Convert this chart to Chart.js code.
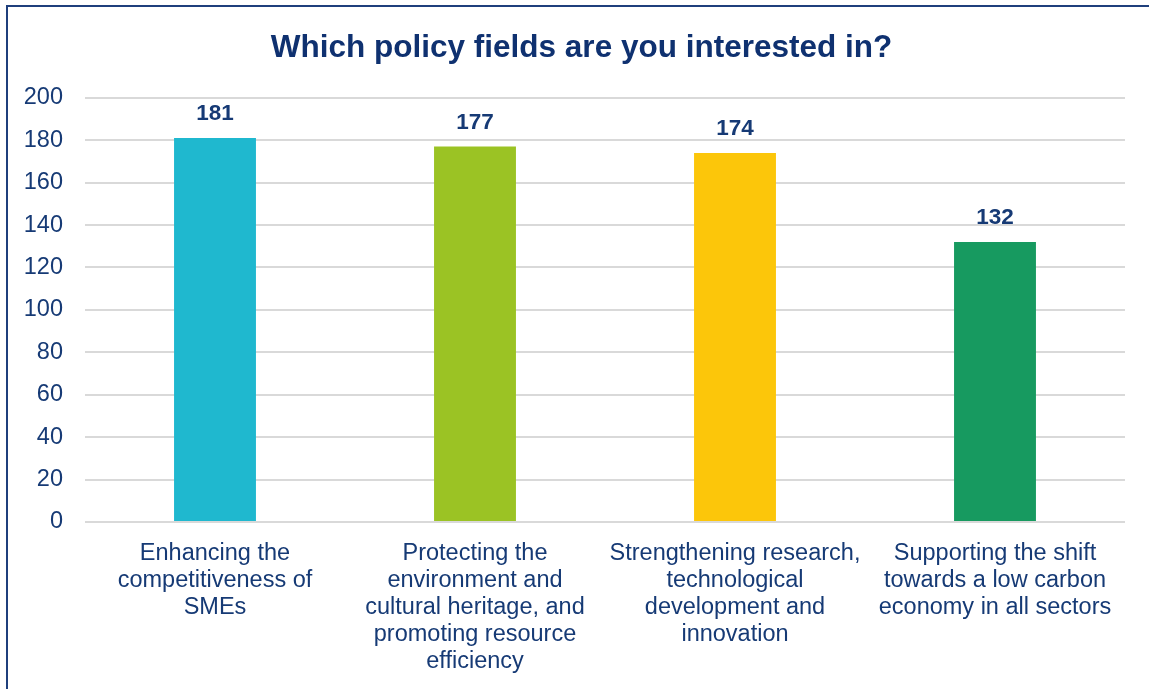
<!DOCTYPE html>
<html>
<head>
<meta charset="utf-8">
<script src="https://cdn.jsdelivr.net/npm/chart.js@4/dist/chart.umd.min.js"></script>
<style>
    html, body { margin: 0; padding: 0; background: #fff; }
    #wrap { position: relative; width: 1149px; height: 689px; overflow: hidden; }
    #frame {
        position: absolute; left: 6px; top: 5px; width: 1200px; height: 800px;
        border: 2px solid #1f3f7c; box-sizing: border-box; pointer-events: none;
    }
    canvas { position: absolute; left: 0; top: 0; }
</style>
</head>
<body>
<div id="wrap">
    <canvas id="policyChart" width="1149" height="689"></canvas>
    <div id="frame"></div>
</div>
<script>
const categories = [
    ['Enhancing the', 'competitiveness of', 'SMEs'],
    ['Protecting the', 'environment and', 'cultural heritage, and', 'promoting resource', 'efficiency'],
    ['Strengthening research,', 'technological', 'development and', 'innovation'],
    ['Supporting the shift', 'towards a low carbon', 'economy in all sectors'],
];
const responses = [181, 177, 174, 132];
const barColors = ['#1fb8cf', '#9bc324', '#fcc60a', '#179a60'];
const yTicks = [0, 20, 40, 60, 80, 100, 120, 140, 160, 180, 200];

const navy = '#163a75';
const fontFamily = 'Arial, "Liberation Sans", sans-serif';

// Value labels above the bars
const valueLabels = {
    id: 'valueLabels',
    afterDatasetsDraw(chart) {
        const ctx = chart.ctx;
        const meta = chart.getDatasetMeta(0);
        ctx.save();
        ctx.font = `bold 22.5px ${fontFamily}`;
        ctx.fillStyle = navy;
        ctx.textAlign = 'center';
        ctx.textBaseline = 'middle';
        meta.data.forEach((bar, i) => {
            ctx.fillText(String(responses[i]), bar.x, bar.y - 24);
        });
        ctx.restore();
    },
};

// The title sits centred on the framed box, a bit right of the canvas centre
const titleShift = {
    id: 'titleShift',
    afterLayout(chart) {
        if (chart.titleBlock) {
            chart.titleBlock.left += 19;
            chart.titleBlock.right += 19;
        }
    },
};

const ctx = document.getElementById('policyChart').getContext('2d');
new Chart(ctx, {
    type: 'bar',
    data: {
        labels: categories,
        datasets: [
            {
                data: responses,
                backgroundColor: barColors,
                barPercentage: 0.315,
                categoryPercentage: 1,
            },
        ],
    },
    options: {
        responsive: false,
        animation: false,
        layout: {
            padding: { left: 0, right: 24, top: 0, bottom: 0 },
        },
        plugins: {
            legend: { display: false },
            tooltip: { enabled: false },
            title: {
                display: true,
                text: 'Which policy fields are you interested in?',
                color: '#0f3170',
                font: { family: fontFamily, size: 31.5, weight: 'bold', lineHeight: 1.2 },
                padding: { top: 29, bottom: 31 },
            },
        },
        scales: {
            x: {
                grid: { display: false, drawTicks: false },
                border: { display: false },
                ticks: {
                    color: navy,
                    font: { family: fontFamily, size: 23.5, lineHeight: 1.15 },
                    padding: 18,
                    maxRotation: 0,
                    autoSkip: false,
                },
                afterFit: (scale) => {
                    scale.height = 167;
                },
            },
            y: {
                min: 0,
                max: 200,
                afterBuildTicks: (scale) => {
                    scale.ticks = yTicks.map((v) => ({ value: v }));
                },
                grid: { color: '#d9d9d9', lineWidth: 2, drawTicks: false },
                border: { display: false },
                ticks: {
                    color: navy,
                    font: { family: fontFamily, size: 23.5 },
                    padding: 22,
                },
                afterFit: (scale) => {
                    scale.width = 85;
                },
            },
        },
    },
    plugins: [valueLabels, titleShift],
});
</script>
</body>
</html>
